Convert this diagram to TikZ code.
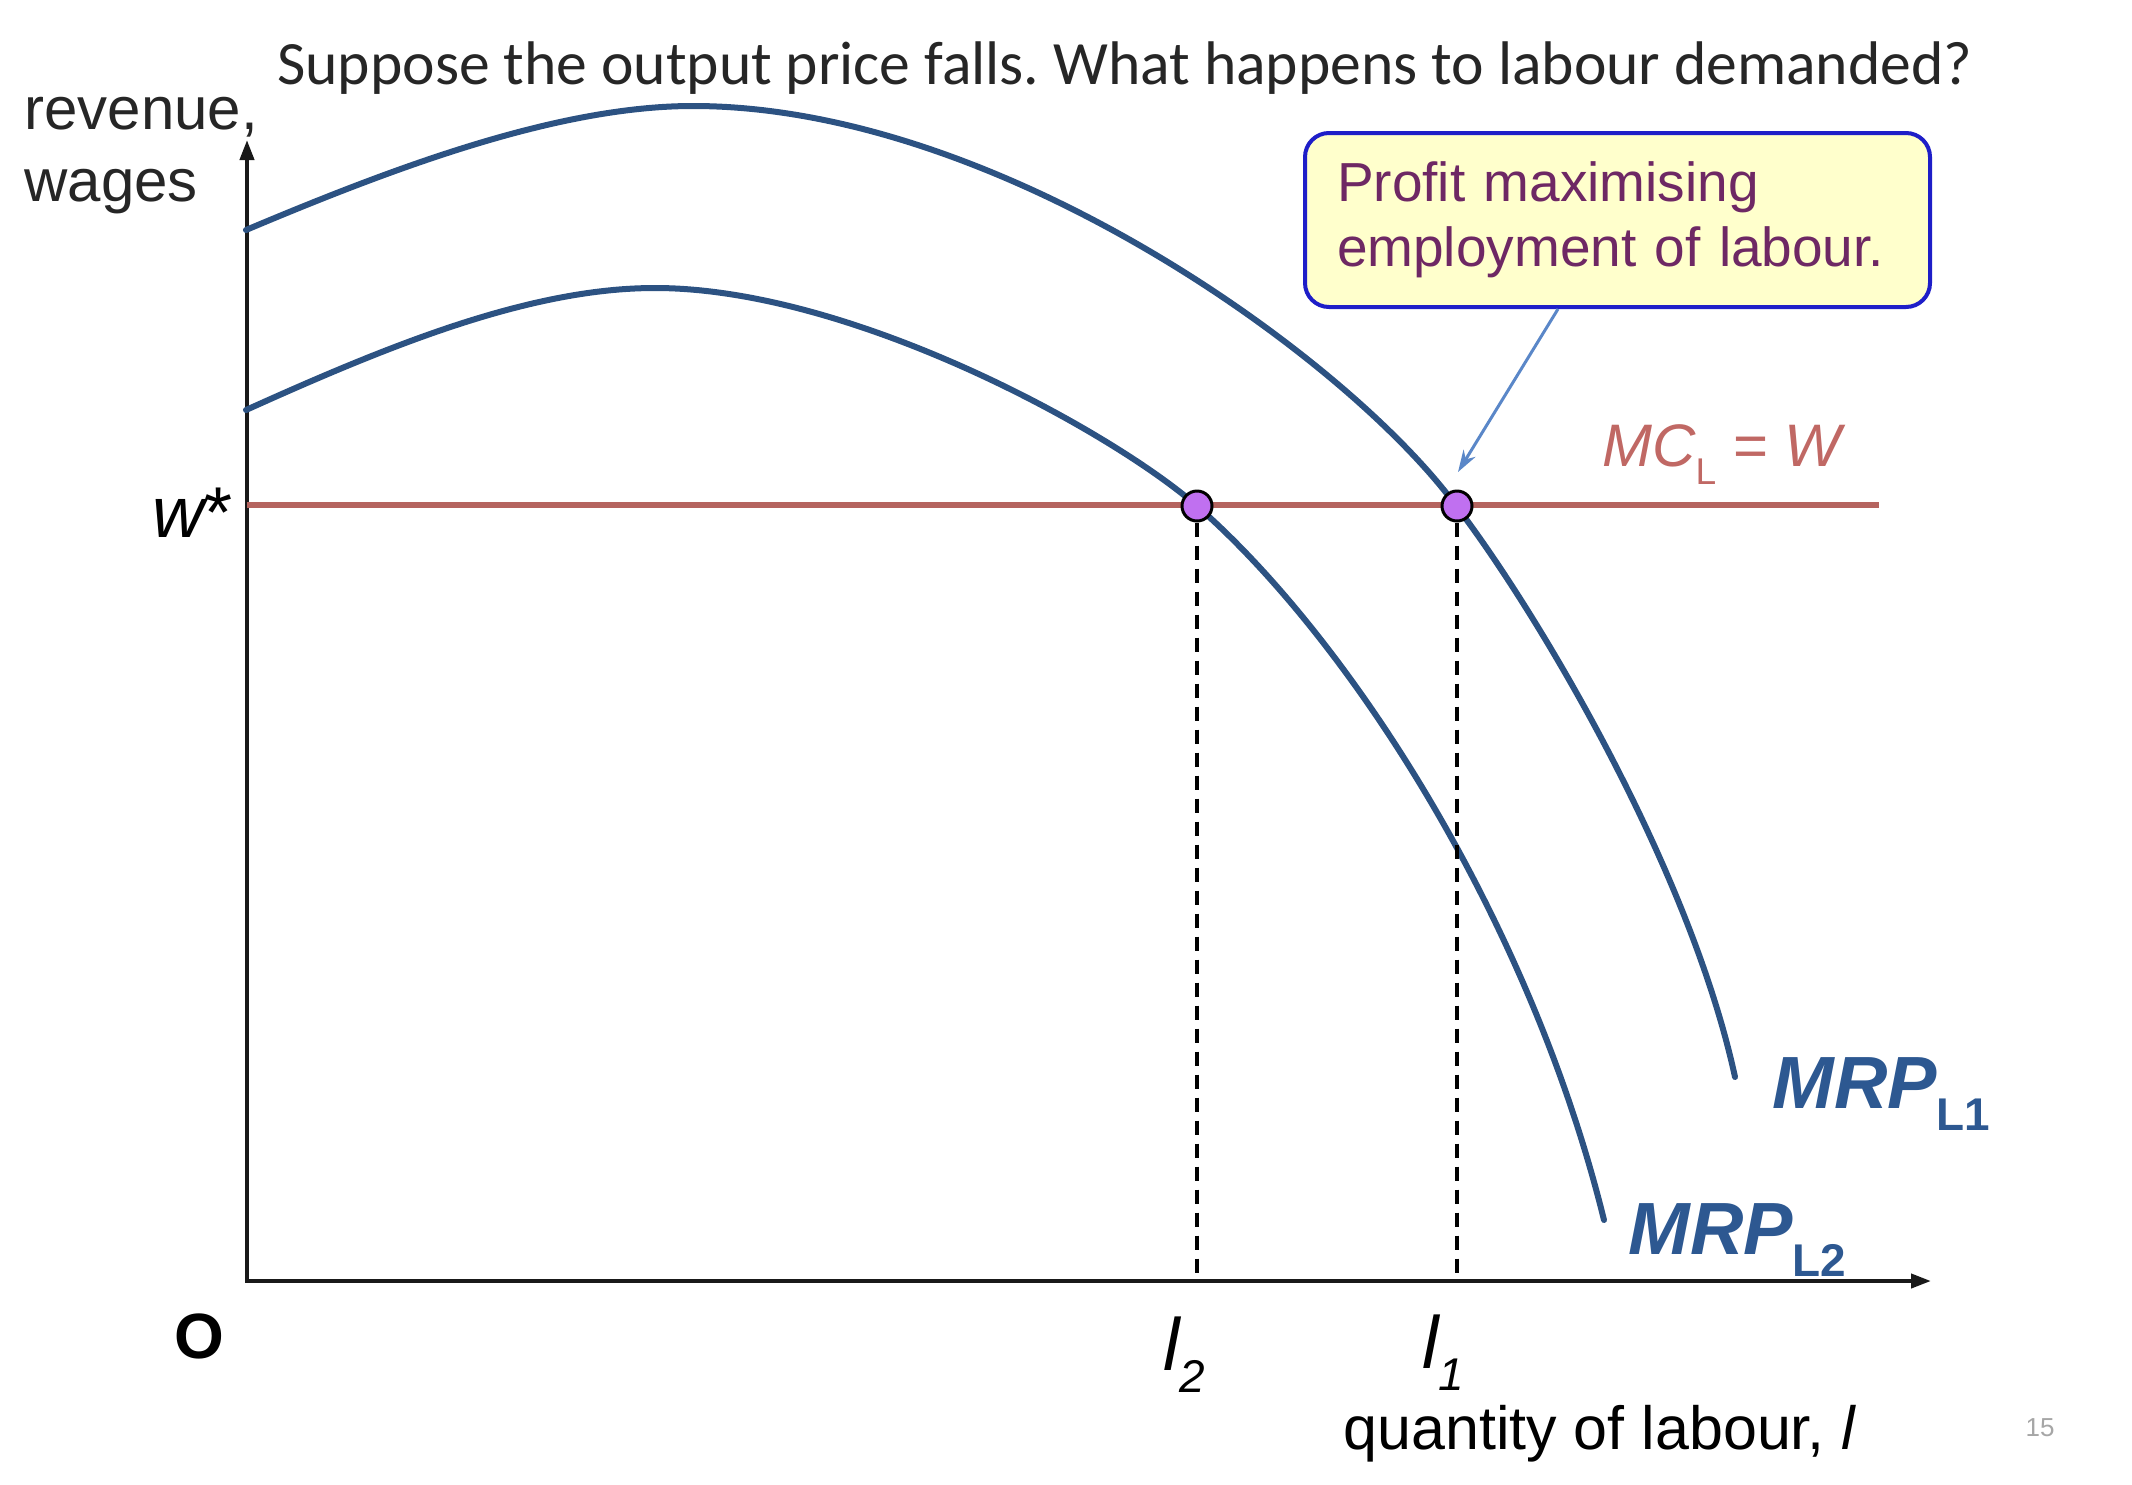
\documentclass[tikz,border=0pt]{standalone}
\usepackage{fontspec}
\setmainfont{Liberation Sans}
\newfontfamily\titlefont{Carlito}
\usetikzlibrary{arrows.meta}
\frenchspacing
\newcommand{\mysub}[2][0.62]{\raisebox{-0.3em}{\scalebox{#1}{#2}}}
\definecolor{curveblue}{RGB}{44,82,130}
\definecolor{lblblue}{RGB}{45,88,145}
\definecolor{mcred}{RGB}{181,100,95}
\definecolor{mclbl}{RGB}{192,104,100}
\definecolor{dotfill}{RGB}{192,112,240}
\definecolor{boxblue}{RGB}{30,30,200}
\definecolor{boxfill}{RGB}{255,255,204}
\definecolor{boxtext}{RGB}{110,40,100}
\definecolor{arrblue}{RGB}{90,135,200}
\tikzset{
  curve/.style={line width=3pt, draw=curveblue, line cap=round},
  axisline/.style={line width=2pt, draw=black!90, {Triangle[length=10pt,width=7pt]}-{Triangle[length=10pt,width=7pt]}},
  mcline/.style={line width=3pt, draw=mcred},
  dotnode/.style={circle, fill=dotfill, draw=black, line width=1.5pt, minimum size=15pt, inner sep=0pt},
  guide/.style={dash pattern=on 7pt off 4.5pt, line width=2pt, draw=black},
  txt/.style={inner sep=0pt},
  callbox/.style={draw=boxblue, fill=boxfill, line width=2pt, rounded corners=12pt, inner xsep=16pt, inner ysep=0pt,
    font=\fontsize{27.5}{32.5}\selectfont, text=boxtext, align=left},
  callarrow/.style={draw=arrblue, line width=1.5pt, -{Stealth[length=11pt,width=7pt]}}
}
\begin{document}
\begin{tikzpicture}[x=0.5pt,y=-0.5pt]
\path[use as bounding box] (0,0) rectangle (2132,1484);

\node[txt, anchor=base, font=\titlefont\fontsize{30.8}{36}\selectfont, text=black!85] (title) at (1125,84)
  {Suppose the output price falls. What happens to labour demanded?};
\node[txt, anchor=base west, font=\fontsize{30}{36}\selectfont, text=black!85] (rev) at (24,129) {revenue,};
\node[txt, anchor=base west, font=\fontsize{30}{36}\selectfont, text=black!85] (wag) at (24,201) {wages};

% axes
\coordinate (O) at (247,1281);
\coordinate (ytop) at (247,140);
\coordinate (xend) at (1931,1281);
\draw[axisline] (ytop) -- (O) -- (xend);

% MC line
\coordinate (mcA) at (247,505);
\coordinate (mcB) at (1879,505);
\draw[mcline] (mcA) -- (mcB);

% curves
\draw[curve] (246,230) .. controls (400,165) and (560,106) .. (693,106)
  .. controls (1000,106) and (1350,360) .. (1457,507)
  .. controls (1540,616) and (1690,870) .. (1735,1077);
\draw[curve] (246,410) .. controls (390,345) and (530,288) .. (655,288)
  .. controls (850,288) and (1110,430) .. (1197,506)
  .. controls (1350,640) and (1530,920) .. (1604,1220);

% dots and guides
\node[dotnode] (d1) at (1197,506) {};
\node[dotnode] (d2) at (1457,506) {};
\draw[guide] (d1) -- (d1 |- O);
\draw[guide] (d2) -- (d2 |- O);

% labels
\node[txt, anchor=base east, font=\fontsize{36}{44}\selectfont] (wst) at (233,537) {\itshape w\upshape*};
\node[txt, font=\fontsize{32}{38}\selectfont\bfseries] (orig) at (199,1336) {O};
\node[txt, anchor=base, font=\fontsize{37}{44}\selectfont\itshape] (l2) at (1184,1370) {l\mysub{2}};
\node[txt, anchor=base, font=\fontsize{37}{44}\selectfont\itshape] (l1) at (1443,1368) {l\mysub{1}};
\node[txt, anchor=base west, font=\fontsize{30.5}{36}\selectfont] (qty) at (1343,1449) {quantity of labour, \itshape l};
\node[txt, font=\fontsize{13}{15}\selectfont, text=black!35] (pg) at (2040,1428) {15};
\node[txt, anchor=base west, font=\fontsize{30}{36}\selectfont, text=mclbl] (mcl) at (1602,466) {\itshape MC\upshape\mysub{L} = \itshape W};
\node[txt, anchor=base west, font=\fontsize{37}{44}\selectfont\bfseries, text=lblblue] (mrp1) at (1772,1108) {\itshape MRP\upshape\mysub{L1}};
\node[txt, anchor=base west, font=\fontsize{37}{44}\selectfont\bfseries, text=lblblue] (mrp2) at (1628,1254) {\itshape MRP\upshape\mysub{L2}};

% callout
\node[callbox, anchor=north west, minimum width=312.5pt, minimum height=87pt, text width=280.5pt] (box) at (1303,131)
  {Profit maximising\\employment of labour.};
\coordinate (arrS) at (1558,305);
\coordinate (arrE) at (1458,472);
\draw[callarrow] (box.south -| arrS) -- (arrE);
\end{tikzpicture}
\end{document}
